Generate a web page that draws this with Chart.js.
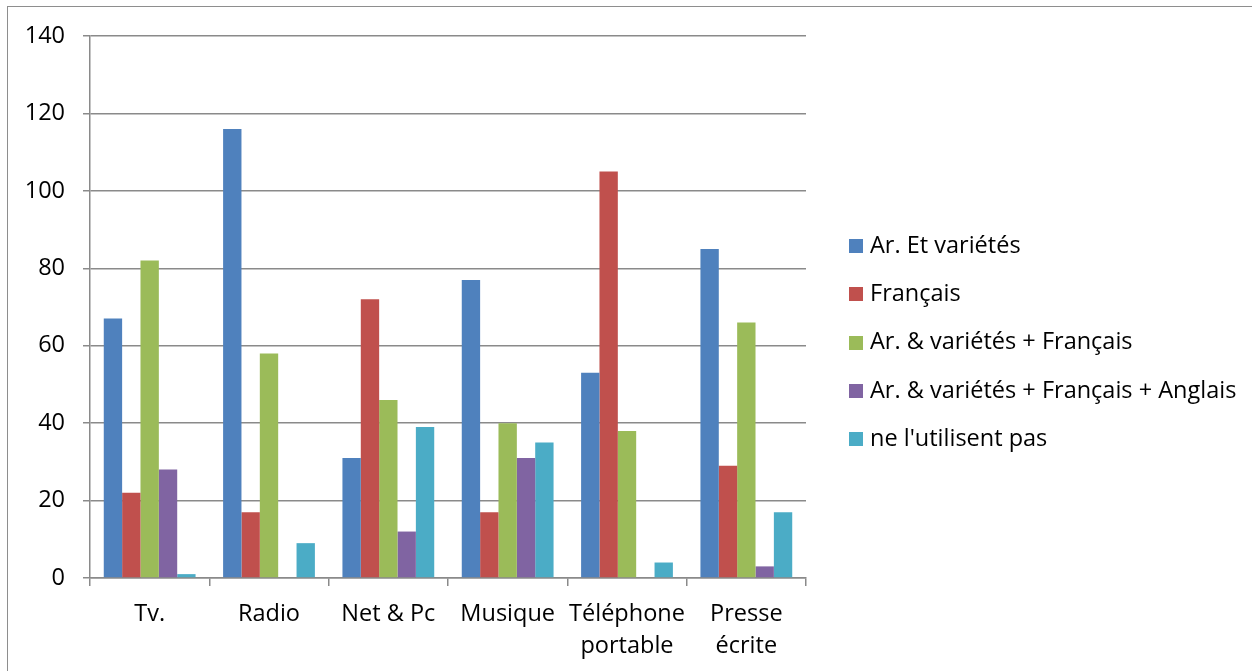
<!DOCTYPE html>
<html>
<head>
<meta charset="utf-8">
<script src="https://cdn.jsdelivr.net/npm/chart.js@4.4.0/dist/chart.umd.min.js"></script>
<style>
  html, body { margin: 0; padding: 0; background: #fff; overflow: hidden; }
  #frame { position: absolute; left: 7px; top: 6px; width: 1260px; height: 700px; border: 1px solid #8e8e8e; box-sizing: border-box; }
  #wrap { position: absolute; left: 0; top: 0; width: 1252px; height: 671px; }
</style>
</head>
<body>
<div id="frame"></div>
<div id="wrap"><canvas id="c" width="1252" height="671"></canvas></div>
<script>
// Media categories (multi-line labels as arrays)
const categories = ['Tv.', 'Radio', 'Net & Pc', 'Musique', ['Téléphone', 'portable'], ['Presse', 'écrite']];

// Series names
const seriesNames = [
  'Ar. Et variétés',
  'Français',
  'Ar. & variétés + Français',
  'Ar. & variétés + Français + Anglais',
  "ne l'utilisent pas"
];

// Values per series, one per category
const arEtVarietes    = [67, 116, 31, 77, 53, 85];
const francais        = [22, 17, 72, 17, 105, 29];
const arVarFrancais   = [82, 58, 46, 40, 38, 66];
const arVarFrAnglais  = [28, 0, 12, 31, 0, 3];
const nonUtilisateurs = [1, 9, 39, 35, 4, 17];

// Y axis range
const yMin = 0, yMax = 140, yStep = 20;

const seriesColors = ['#4F81BD', '#C0504D', '#9BBB59', '#8064A2', '#4BACC6'];
const seriesValues = [arEtVarietes, francais, arVarFrancais, arVarFrAnglais, nonUtilisateurs];

const FONT = 'Open Sans';
const FONT_SIZE = 23.5;
const AXIS_GRAY = '#8a8a8a';

// Legend drawn at the right of the plot, one row per dataset
const sideLegend = {
  id: 'sideLegend',
  afterDraw(chart) {
    const ctx = chart.ctx;
    ctx.save();
    ctx.font = FONT_SIZE + 'px "' + FONT + '"';
    ctx.textBaseline = 'middle';
    ctx.textAlign = 'left';
    chart.data.datasets.forEach((ds, i) => {
      const y = 246 + i * 48.3;
      ctx.fillStyle = ds.backgroundColor;
      ctx.fillRect(849, Math.round(y - 7), 14, 14);
      ctx.fillStyle = '#000';
      ctx.fillText(ds.label, 870, y);
    });
    ctx.restore();
  }
};

function build() {
  new Chart(document.getElementById('c'), {
    type: 'bar',
    data: {
      labels: categories,
      datasets: seriesNames.map((name, i) => ({
        label: name,
        data: seriesValues[i],
        backgroundColor: seriesColors[i],
        borderWidth: 0,
        barPercentage: 1.0,
        categoryPercentage: 5 / 6.5
      }))
    },
    options: {
      responsive: false,
      animation: false,
      events: [],
      layout: { padding: { left: 0, top: 36, right: 446, bottom: 0 } },
      plugins: {
        legend: { display: false },
        tooltip: { enabled: false },
        title: { display: false }
      },
      scales: {
        x: {
          offset: true,
          grid: {
            offset: true,
            drawOnChartArea: false,
            drawTicks: true,
            tickLength: 8,
            color: AXIS_GRAY,
            lineWidth: 1.5
          },
          border: { display: true, color: AXIS_GRAY, width: 1.5 },
          ticks: {
            color: '#000',
            padding: 12,
            maxRotation: 0,
            autoSkip: false,
            font: { family: FONT, size: FONT_SIZE, lineHeight: 1.36 }
          },
          afterFit(scale) { scale.height = 93; }
        },
        y: {
          min: yMin,
          max: yMax,
          ticks: {
            stepSize: yStep,
            color: '#000',
            padding: 18,
            font: { family: FONT, size: FONT_SIZE }
          },
          grid: {
            color: AXIS_GRAY,
            lineWidth: 1.5,
            drawTicks: true,
            tickLength: 7
          },
          border: { display: true, color: AXIS_GRAY, width: 1.5 },
          afterFit(scale) { scale.width = 90; }
        }
      }
    },
    plugins: [sideLegend]
  });
}

if (document.fonts && document.fonts.load) {
  document.fonts.load(FONT_SIZE + 'px "' + FONT + '"').then(build, build);
} else {
  build();
}
</script>
</body>
</html>
